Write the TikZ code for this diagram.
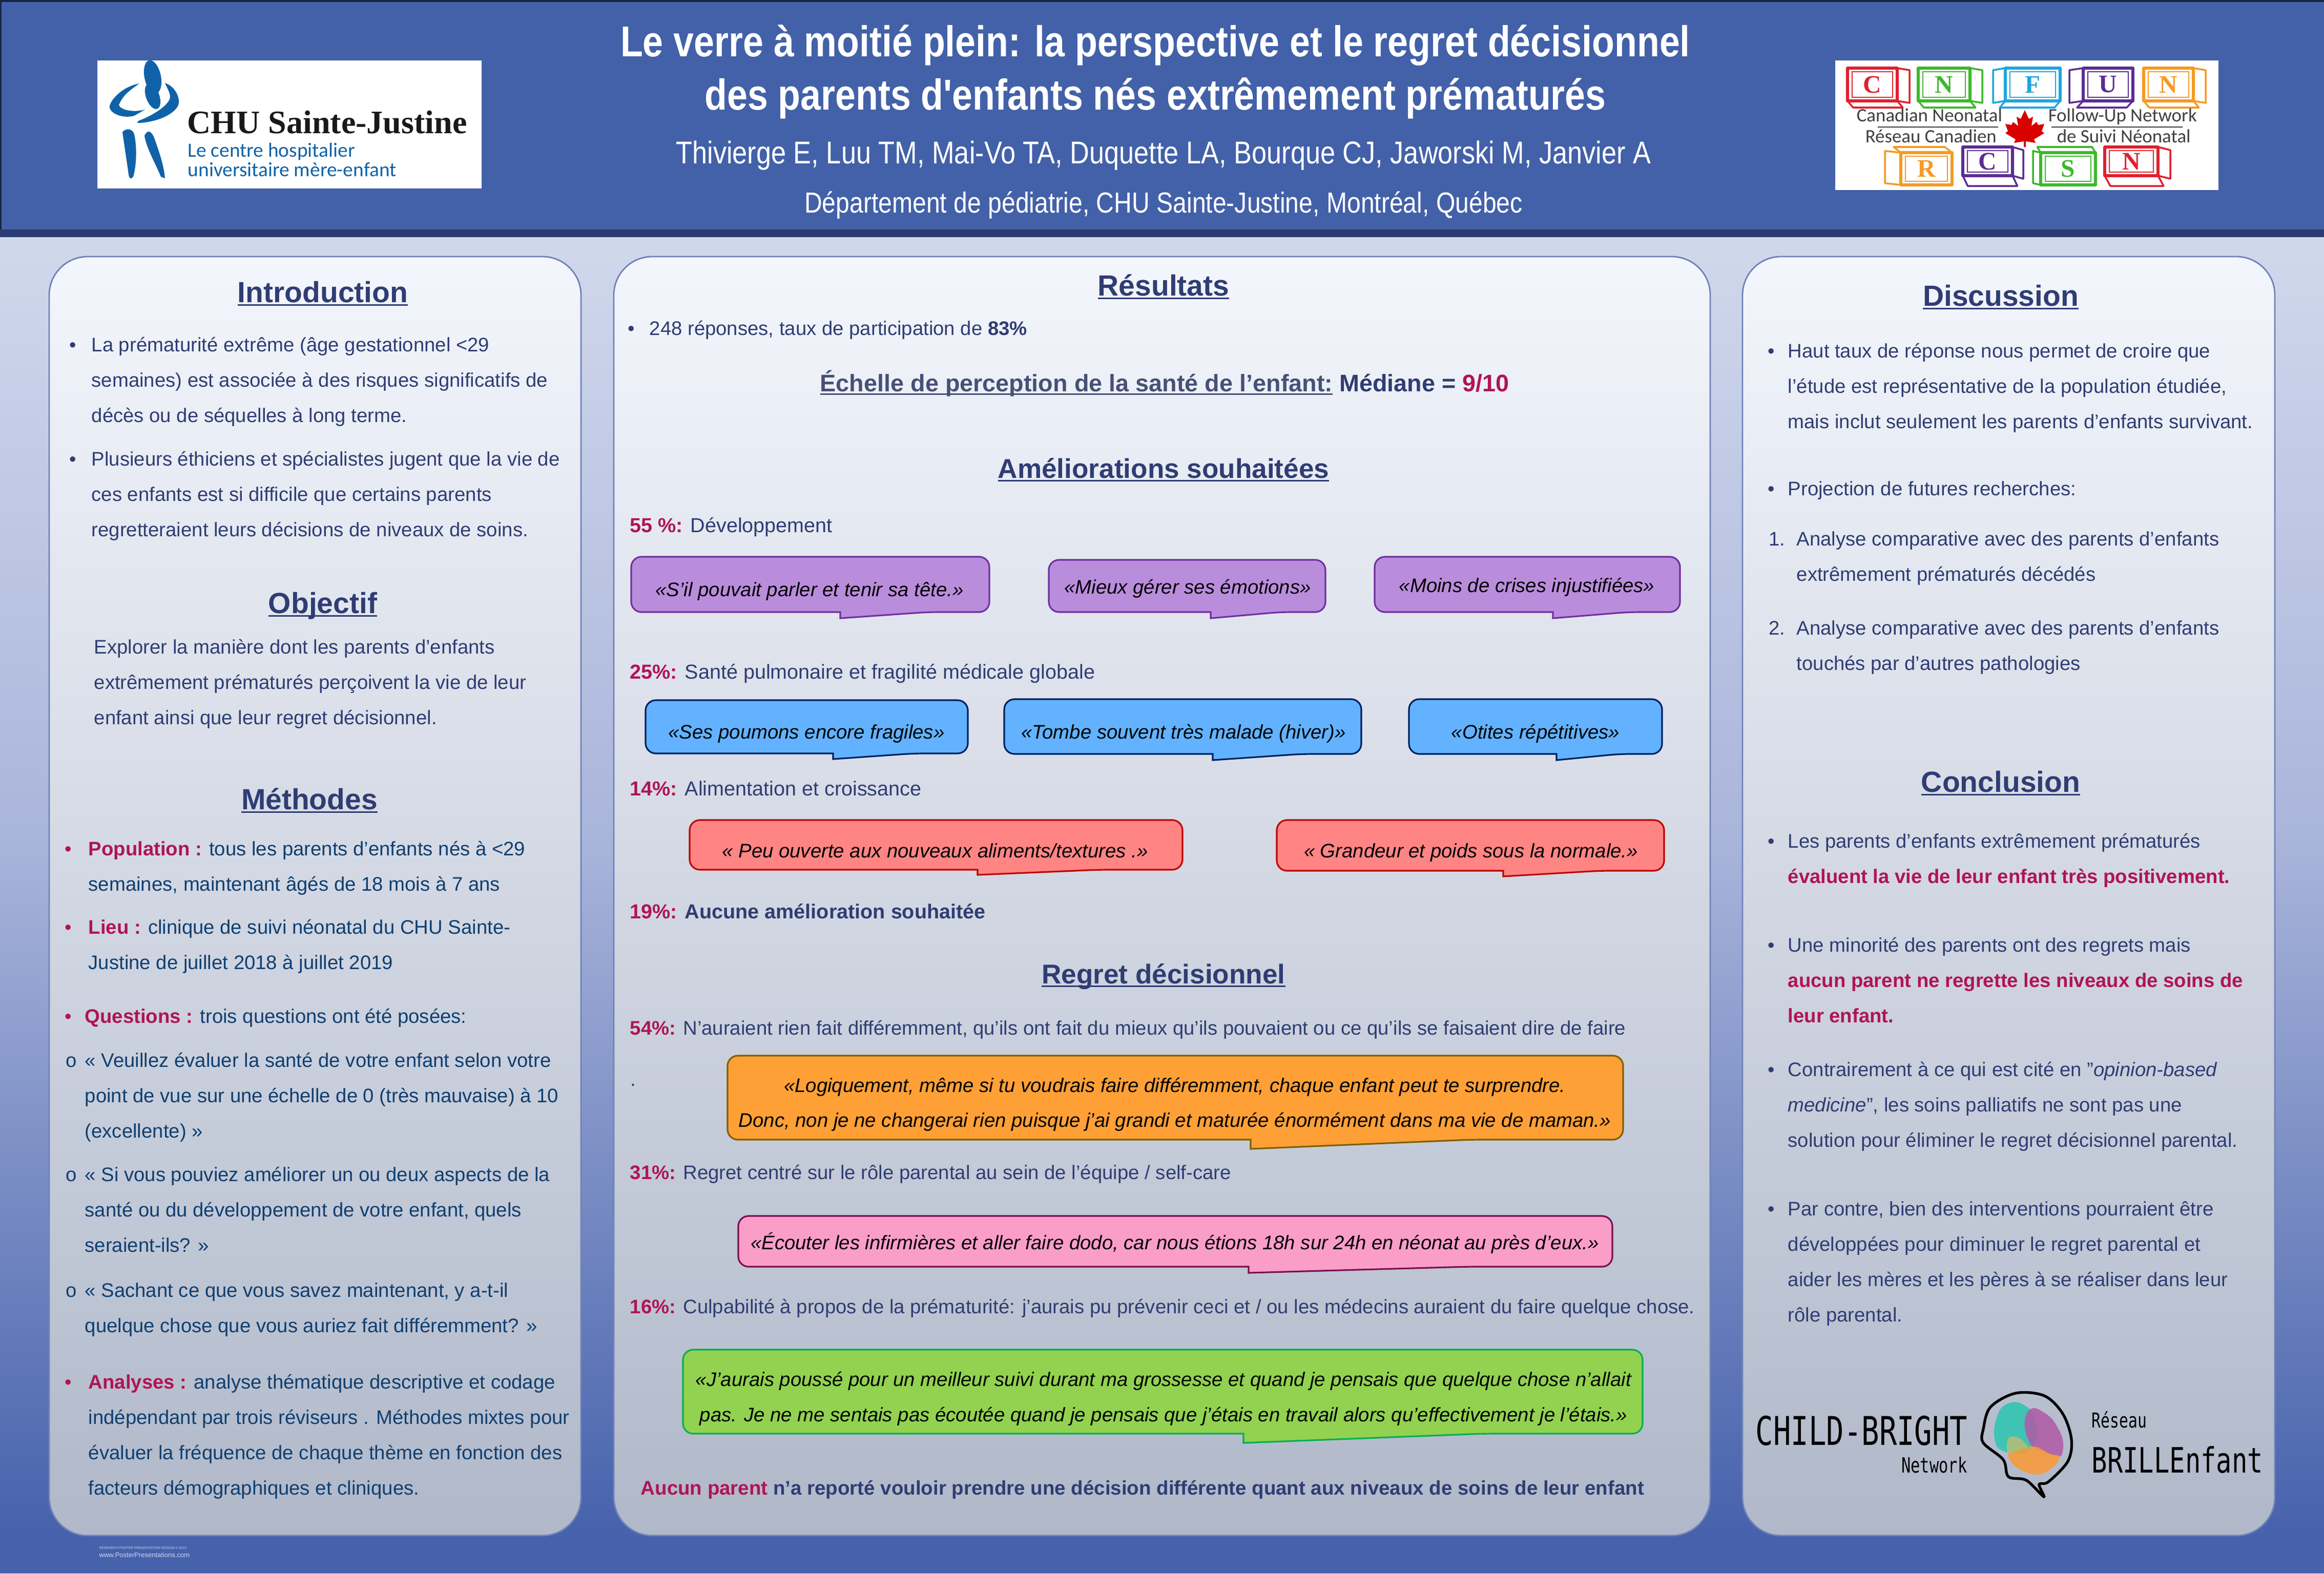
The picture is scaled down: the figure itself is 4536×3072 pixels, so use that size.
\documentclass[tikz,border=0pt]{standalone}
\usepackage{fontspec}
\setmainfont{Liberation Sans}
\newfontfamily\narrowfont[FakeStretch=0.85]{Liberation Sans}
\newfontfamily\logoserif{Liberation Serif}
\newfontfamily\logosans{Carlito}
\newfontfamily\logomono[FakeStretch=0.74]{DejaVu Sans Mono}
\usetikzlibrary{calc}

\definecolor{headblue}{HTML}{4361A8}
\definecolor{bandblue}{HTML}{2A3D72}
\definecolor{pagetop}{HTML}{D0D8EC}
\definecolor{pagemid}{HTML}{AAB5DB}
\definecolor{pagebot}{HTML}{4662AC}
\definecolor{paneltop}{HTML}{F3F6FC}
\definecolor{panelbot}{HTML}{B0B8C9}
\definecolor{panelline}{HTML}{6F82B8}
\definecolor{navytext}{HTML}{2F3D73}
\definecolor{tealnavy}{HTML}{0F3F70}
\definecolor{crimson}{HTML}{B01455}
\definecolor{chublue}{HTML}{0F62A8}
\definecolor{quoteviolet}{RGB}{186,141,220}
\definecolor{quotesky}{RGB}{98,178,255}
\definecolor{quotered}{RGB}{255,133,133}
\definecolor{quoteorange}{RGB}{255,160,55}
\definecolor{quotepink}{RGB}{250,158,200}
\definecolor{quotegreen}{RGB}{146,210,80}
\definecolor{edgeviolet}{HTML}{7030A0}
\definecolor{edgesky}{HTML}{002060}
\definecolor{edgered}{HTML}{C00000}
\definecolor{edgeorange}{HTML}{7F6000}
\definecolor{edgepink}{HTML}{7B0F50}
\definecolor{edgegreen}{HTML}{00B050}

\tikzset{
  sidepanel/.style={draw=panelline,line width=0.8pt,top color=paneltop,bottom color=panelbot,rounded corners=0.75cm},
  bodytxt/.style={anchor=north west,inner sep=0pt,align=left,yshift=8pt,
    font=\fontsize{10.9}{19.6}\selectfont},
  headtxt/.style={anchor=base,inner sep=0pt,text=navytext,font=\fontsize{16.2}{18}\selectfont\bfseries},
  subhead/.style={headtxt,font=\fontsize{15.1}{18}\selectfont\bfseries},
  linetxt/.style={anchor=base west,inner sep=0pt,text=navytext,font=\fontsize{10.9}{14}\selectfont},
  widetxt/.style={linetxt,font=\fontsize{11.25}{14}\selectfont},
  quotetxt/.style={anchor=base,inner sep=0pt,text=black,font=\fontsize{10.9}{14}\selectfont\itshape},
  bulletmark/.style={anchor=base,inner sep=0pt,font=\fontsize{10.9}{14}\selectfont},
  quotebubble/.style={line width=0.9pt},
  cubeline/.style={line width=1pt,fill=white,line join=round},
}

% heavier underline for the headings
\newcommand{\headrule}[1]{\setbox0=\hbox{#1}\rlap{\rule[-2pt]{\wd0}{1pt}}\box0}

% speech bubble: name, x1, y1, x2, y2, tail start, tail end, tail tip, colours
\newcommand{\quotebox}[9]{
  \draw[quotebubble,#9] [rounded corners=0.2cm] (#6,#5) -- (#2,#5) -- (#2,#3) -- (#4,#3) -- (#4,#5) -- (#7,#5)
    [sharp corners] -- (#6,#8) -- cycle;
}

% toy block of the network logo: front x1 y1 x2 y2, depth dx dy, colour, letter
\newcommand{\logocube}[8]{
  \ifdim #5pt<0pt \def\sidex{#1}\else \def\sidex{#3}\fi
  \ifdim #6pt<0pt \def\facey{#2}\else \def\facey{#4}\fi
  \draw[cubeline,draw=#7] (\sidex,#2) -- ++(#5,#6*0.3) -- ++(0,#4-#2) -- ++(-#5,-#6*0.3) -- cycle;
  \draw[cubeline,draw=#7] (#1,\facey) -- ++(#5*0.45,#6) -- ++(#3-#1,0) -- (#3,\facey) -- cycle;
  \draw[cubeline,draw=#7,line width=1.6pt] (#1,#2) rectangle (#3,#4);
  \draw[draw=#7,line width=0.8pt] (#1+9,#2+7) rectangle (#3-9,#4-7);
  \node[inner sep=0pt,text=#7,font=\fontsize{14}{14}\selectfont\logoserif\bfseries] (cube#8#1) at ({(#1+#3)/2},{(#2+#4)/2}) {#8};
}

\begin{document}
\begin{tikzpicture}[x=0.01cm,y=-0.01cm]

\useasboundingbox (0,0) rectangle (4536,3072);

% page and header
\fill[top color=pagetop,bottom color=pagemid] (0,463) rectangle (4536,1627);
\fill[top color=pagemid,bottom color=pagebot] (0,1627) rectangle (4536,3000);
\fill[pagebot] (0,3000) rectangle (4536,3072);
\fill[headblue] (0,0) rectangle (4536,448);
\fill[bandblue] (0,448) rectangle (4536,463);
\fill[bandblue!60!black] (0,0) rectangle (4536,4);
\fill[bandblue!60!black] (0,0) rectangle (3,448);

% title block
\node[anchor=base,inner sep=0pt,text=white,font=\fontsize{24}{28}\selectfont\narrowfont\bfseries] (titleA) at (2255,110) {Le verre à moitié plein: la perspective et le regret décisionnel};
\node[anchor=base,inner sep=0pt,text=white,font=\fontsize{24}{28}\selectfont\narrowfont\bfseries] (titleB) at (2255,214) {des parents d'enfants nés extrêmement prématurés};
\node[anchor=base,inner sep=0pt,text=white,font=\fontsize{17.5}{20}\selectfont\narrowfont] (authors) at (2271,319) {Thivierge E, Luu TM, Mai-Vo TA, Duquette LA, Bourque CJ, Jaworski M, Janvier A};
\node[anchor=base,inner sep=0pt,text=white,font=\fontsize{16.1}{20}\selectfont\narrowfont] (dept) at (2271,415) {Département de pédiatrie, CHU Sainte-Justine, Montréal, Québec};

% CHU logo
\fill[white] (190,118) rectangle (940,368);
\begin{scope}[chublue]
  \fill[rotate around={12:(298,150)}] (298,150) ellipse (16 and 33);
  \fill[rotate around={20:(298,188)}] (298,188) ellipse (13 and 26);
  \fill (272,163) .. controls (235,170) and (212,200) .. (214,210) .. controls (216,222) and (240,232) .. (262,226) -- (283,214)
    .. controls (260,220) and (235,215) .. (232,205) .. controls (240,185) and (255,175) .. (272,163);
  \fill (322,162) .. controls (345,170) and (352,195) .. (348,205) .. controls (340,225) and (300,240) .. (268,240)
    -- (270,236) .. controls (300,225) and (330,205) .. (332,190) .. controls (332,180) and (325,170) .. (322,162);
  \fill (239,258) .. controls (245,250) and (258,250) .. (262,262) .. controls (268,290) and (266,325) .. (260,345) .. controls (256,350) and (252,350) .. (251,340) -- cycle;
  \fill (282,265) .. controls (288,252) and (296,255) .. (302,272) .. controls (312,300) and (320,325) .. (322,348) -- (314,345) .. controls (304,320) and (286,290) .. (282,265) -- cycle;
\end{scope}
\node[anchor=base west,inner sep=0pt,text=black!90,font=\fontsize{18.2}{20}\selectfont\logoserif\bfseries] (chuname) at (365,260) {CHU Sainte-Justine};
\node[anchor=base west,inner sep=0pt,text=chublue,font=\fontsize{11.2}{12}\selectfont\logosans] (chuA) at (366,306) {Le centre hospitalier};
\node[anchor=base west,inner sep=0pt,text=chublue,font=\fontsize{11.2}{12}\selectfont\logosans] (chuB) at (366,344) {universitaire mère-enfant};

% CNFUN logo
\fill[white] (3582,118) rectangle (4330,371);
\definecolor{cubered}{HTML}{E0202E}
\definecolor{cubegreen}{HTML}{3DB82C}
\definecolor{cubecyan}{HTML}{1FA5E0}
\definecolor{cubeviolet}{HTML}{5B2D92}
\definecolor{cubeorange}{HTML}{F59A23}
\logocube{3606}{133}{3703}{197}{24}{13}{cubered}{C}
\logocube{3744}{133}{3845}{197}{24}{13}{cubegreen}{N}
\logocube{3914}{133}{4021}{197}{-24}{13}{cubecyan}{F}
\logocube{4066}{133}{4163}{197}{-27}{13}{cubeviolet}{U}
\logocube{4184}{133}{4281}{197}{24}{13}{cubeorange}{N}
\logocube{3710}{298}{3810}{361}{-31}{-11}{cubeorange}{R}
\logocube{3831}{287}{3928}{343}{21}{20}{cubeviolet}{C}
\logocube{3983}{298}{4090}{361}{-15}{-11}{cubegreen}{S}
\logocube{4108}{287}{4212}{343}{24}{20}{cubered}{N}
\begin{scope}[font=\fontsize{10.5}{11}\selectfont\logosans,text=black!75]
  \node[anchor=base west,inner sep=0pt] (cnfunA) at (3623,237) {Canadian Neonatal};
  \node[anchor=base west,inner sep=0pt] (cnfunB) at (3997,237) {Follow-Up Network};
  \node[anchor=base west,inner sep=0pt] (cnfunC) at (3640,278) {Réseau Canadien};
  \node[anchor=base west,inner sep=0pt] (cnfunD) at (4014,278) {de Suivi Néonatal};
\end{scope}
\draw[black!75,line width=0.8pt] (3665,248) -- (3900,248) (4004,248) -- (4260,248);
% maple leaf
\fill[red!85!black] (3952,215) -- (3960,232) -- (3968,228) -- (3965,246) -- (3975,238) -- (3978,244) -- (3990,242) -- (3985,256) -- (3990,260)
  -- (3970,272) -- (3973,279) -- (3954,276) -- (3954,287) -- (3950,287) -- (3950,276) -- (3931,279) -- (3934,272) -- (3914,260) -- (3919,256) -- (3914,242)
  -- (3926,244) -- (3929,238) -- (3939,246) -- (3936,228) -- (3944,232) -- cycle;

% panels
\draw[sidepanel] (96,501) rectangle (1134,2998);
\draw[sidepanel] (1198,501) rectangle (3338,2998);
\draw[sidepanel] (3401,501) rectangle (4440,2998);

% left column
\node[headtxt] (introhead) at (630,590) {\headrule{Introduction}};
\node[bodytxt,text=navytext] (introA) at (178,686) {La prématurité extrême (âge gestationnel <29\\semaines) est associée à des risques significatifs de\\décès ou de séquelles à long terme.};
\node[bodytxt,text=navytext] (introB) at (178,909) {Plusieurs éthiciens et spécialistes jugent que la vie de\\ces enfants est si difficile que certains parents\\regretteraient leurs décisions de niveaux de soins.};
\node[headtxt] (objhead) at (630,1197) {\headrule{Objectif}};
\node[bodytxt,text=navytext] (objtxt) at (183,1276) {Explorer la manière dont les parents d’enfants\\extrêmement prématurés perçoivent la vie de leur\\enfant ainsi que leur regret décisionnel.};
\node[headtxt] (methhead) at (604,1580) {\headrule{Méthodes}};
\node[bodytxt,text=tealnavy] (methA) at (172,1670) {\textcolor{crimson}{\bfseries Population :} tous les parents d’enfants nés à <29\\semaines, maintenant âgés de 18 mois à 7 ans};
\node[bodytxt,text=tealnavy] (methB) at (172,1823) {\textcolor{crimson}{\bfseries Lieu :} clinique de suivi néonatal du CHU Sainte-\\Justine de juillet 2018 à juillet 2019};
\node[bodytxt,text=tealnavy] (methC) at (165,1997) {\textcolor{crimson}{\bfseries Questions :} trois questions ont été posées:};
\node[bodytxt,text=tealnavy] (methD) at (165,2083) {« Veuillez évaluer la santé de votre enfant selon votre\\point de vue sur une échelle de 0 (très mauvaise) à 10\\(excellente)  »};
\node[bodytxt,text=tealnavy] (methE) at (165,2306) {« Si vous pouviez améliorer un ou deux aspects de la\\santé ou du développement de votre enfant, quels\\seraient-ils? »};
\node[bodytxt,text=tealnavy] (methF) at (165,2532) {« Sachant ce que vous savez maintenant, y a-t-il\\quelque chose que vous auriez fait différemment? »};
\node[bodytxt,text=tealnavy] (methG) at (172,2711) {\textcolor{crimson}{\bfseries Analyses :} analyse thématique descriptive et codage\\indépendant par trois réviseurs . Méthodes mixtes pour\\évaluer la fréquence de chaque thème en fonction des\\facteurs démographiques et cliniques.};
\foreach \bx/\by [count=\i] in {142/686,142/909}
  \node[bulletmark,text=navytext] (dotL\i) at (\bx,\by) {•};
\foreach \bx/\by [count=\i] in {133/1670,133/1823,133/1997,133/2711}
  \node[bulletmark,text=crimson] (dotM\i) at (\bx,\by) {•};
\foreach \by [count=\i] in {2083,2306,2532}
  \node[bulletmark,text=tealnavy] (ringM\i) at (139,\by) {o};

% centre column
\node[headtxt] (reshead) at (2271,577) {\headrule{Résultats}};
\node[bulletmark,text=navytext] (dotC) at (1232,654) {•};
\node[linetxt] (resA) at (1267,654) {248 réponses, taux de participation de \textbf{83\%}};
\node[anchor=base west,inner sep=0pt,font=\fontsize{13.3}{16}\selectfont\bfseries,text=navytext] (scale) at (1600,764) {\textcolor{navytext!70!gray}{\headrule{Échelle de perception de la santé de l’enfant:}} Médiane = \textcolor{crimson}{9/10}};
\node[subhead] (wishhead) at (2271,933) {\headrule{Améliorations souhaitées}};
\node[widetxt] (wishA) at (1229,1039) {\textcolor{crimson}{\bfseries 55 \%:} Développement};
\node[widetxt] (wishB) at (1229,1325) {\textcolor{crimson}{\bfseries 25\%:} Santé pulmonaire  et fragilité médicale globale};
\node[widetxt] (wishC) at (1229,1553) {\textcolor{crimson}{\bfseries 14\%:} Alimentation  et croissance};
\node[widetxt] (wishD) at (1229,1793) {\textcolor{crimson}{\bfseries 19\%:} \textbf{Aucune  amélioration souhaitée}};
\node[subhead] (regrethead) at (2271,1920) {\headrule{Regret décisionnel}};
\node[linetxt] (regA) at (1229,2020) {\textcolor{crimson}{\bfseries 54\%:}  N’auraient rien fait différemment, qu’ils ont fait du mieux qu’ils pouvaient ou ce qu’ils se faisaient dire de faire};
\node[linetxt] (regdot) at (1230,2120) {.};
\node[linetxt] (regB) at (1229,2302) {\textcolor{crimson}{\bfseries 31\%:} Regret centré sur le rôle parental au sein de l’équipe / self-care};
\node[linetxt] (regC) at (1229,2564) {\textcolor{crimson}{\bfseries 16\%:} Culpabilité à propos de la prématurité: j’aurais pu prévenir ceci et / ou les médecins auraient du faire quelque chose.};
\node[linetxt,font=\fontsize{10.94}{14}\selectfont\bfseries] (regD) at (1250,2918) {\textcolor{crimson}{Aucun parent} n’a reporté vouloir prendre une décision différente quant aux niveaux de soins de leur enfant};

% quotes
\quotebox{qA}{1232}{1087}{1931}{1195}{1640}{1811}{1207}{draw=edgeviolet,fill=quoteviolet}
\quotebox{qB}{2047}{1093}{2587}{1195}{2363}{2499}{1207}{draw=edgeviolet,fill=quoteviolet}
\quotebox{qC}{2683}{1087}{3279}{1195}{3031}{3179}{1207}{draw=edgeviolet,fill=quoteviolet}
\quotebox{qD}{1260}{1367}{1889}{1471}{1626}{1783}{1482}{draw=edgesky,fill=quotesky}
\quotebox{qE}{1960}{1365}{2657}{1472}{2367}{2541}{1484}{draw=edgesky,fill=quotesky}
\quotebox{qF}{2750}{1365}{3244}{1472}{3038}{3161}{1484}{draw=edgesky,fill=quotesky}
\quotebox{qG}{1346}{1601}{2308}{1698}{1908}{2145}{1708}{draw=edgered,fill=quotered}
\quotebox{qH}{2492}{1601}{3248}{1700}{2934}{3123}{1711}{draw=edgered,fill=quotered}
\quotebox{qI}{1420}{2061}{3168}{2225}{2441}{2871}{2243}{draw=edgeorange,fill=quoteorange}
\quotebox{qJ}{1441}{2374}{3147}{2473}{2437}{2864}{2485}{draw=edgepink,fill=quotepink}
\quotebox{qK}{1333}{2635}{3206}{2799}{2427}{2895}{2817}{draw=edgegreen,fill=quotegreen}
\node[quotetxt] (qAtxt) at (1580,1164) {«S’il pouvait parler et tenir sa tête.»};
\node[quotetxt] (qBtxt) at (2318,1159) {«Mieux gérer ses émotions»};
\node[quotetxt] (qCtxt) at (2980,1156) {«Moins de crises injustifiées»};
\node[quotetxt] (qDtxt) at (1574,1442) {«Ses poumons encore fragiles»};
\node[quotetxt] (qEtxt) at (2310,1442) {«Tombe souvent très malade (hiver)»};
\node[quotetxt] (qFtxt) at (2997,1442) {«Otites répétitives»};
\node[quotetxt] (qGtxt) at (1825,1674) {« Peu ouverte aux nouveaux aliments/textures .»};
\node[quotetxt] (qHtxt) at (2871,1674) {« Grandeur et poids sous la normale.»};
\node[quotetxt] (qItxtA) at (2293,2132) {«Logiquement,  même si tu voudrais faire différemment,  chaque enfant peut te surprendre.};
\node[quotetxt] (qItxtB) at (2293,2200) {Donc, non je ne changerai rien puisque j’ai grandi et maturée énormément dans ma vie de maman.»};
\node[quotetxt] (qJtxt) at (2293,2439) {«Écouter les infirmières et aller faire dodo, car nous étions 18h sur 24h en néonat au près d'eux.»};
\node[quotetxt] (qKtxtA) at (2271,2706) {«J'aurais poussé pour un meilleur  suivi durant ma grossesse et quand je pensais que quelque  chose n'allait};
\node[quotetxt] (qKtxtB) at (2271,2775) {pas. Je ne me sentais pas écoutée quand je pensais que j'étais en travail alors qu'effectivement je l'étais.»};

% right column
\node[headtxt] (dischead) at (3905,597) {\headrule{Discussion}};
\node[bodytxt,text=navytext] (discA) at (3489,698) {Haut taux de réponse nous permet de croire que\\l’étude est représentative de la population étudiée,\\mais inclut seulement les parents d’enfants survivant.};
\node[bodytxt,text=navytext] (discB) at (3489,967) {Projection de futures recherches:};
\node[bodytxt,text=navytext] (discC) at (3506,1065) {Analyse comparative avec des parents d'enfants\\extrêmement prématurés décédés};
\node[bodytxt,text=navytext] (discD) at (3506,1239) {Analyse comparative avec des parents d'enfants\\touchés par d’autres pathologies};
\node[bulletmark,text=navytext] (numA) at (3468,1065) {1.};
\node[bulletmark,text=navytext] (numB) at (3468,1239) {2.};
\node[headtxt] (conchead) at (3905,1546) {\headrule{Conclusion}};
\node[bodytxt,text=navytext] (concA) at (3489,1655) {Les parents d’enfants extrêmement prématurés\\\textcolor{crimson}{\bfseries évaluent la vie de leur enfant très positivement.}};
\node[bodytxt,text=navytext] (concB) at (3489,1858) {Une minorité des parents ont des regrets mais\\\textcolor{crimson}{\bfseries aucun parent ne regrette les niveaux de soins de}\\\textcolor{crimson}{\bfseries leur enfant.}};
\node[bodytxt,text=navytext] (concC) at (3489,2101) {Contrairement à ce qui est cité en "\textit{opinion-based}\\\textit{medicine}",  les soins palliatifs ne sont pas une\\solution pour éliminer le regret décisionnel parental.};
\node[bodytxt,text=navytext] (concD) at (3489,2373) {Par contre, bien des interventions pourraient être\\développées pour diminuer le regret parental et\\aider les mères et les pères à se réaliser dans leur\\rôle parental.};
\foreach \by [count=\i] in {698,967,1655,1858,2101,2373}
  \node[bulletmark,text=navytext] (dotR\i) at (3457,\by) {•};

% network logo
\node[anchor=base west,inner sep=0pt,font=\fontsize{22}{24}\selectfont\logomono,text=black] (childA) at (3426,2821) {CHILD-BRIGHT};
\node[anchor=base east,inner sep=0pt,font=\fontsize{11.7}{14}\selectfont\logomono,text=black] (childB) at (3840,2875) {Network};
\node[anchor=base west,inner sep=0pt,font=\fontsize{11.4}{14}\selectfont\logomono,text=black] (childC) at (4082,2787) {Réseau};
\node[anchor=base west,inner sep=0pt,font=\fontsize{19.4}{24}\selectfont\logomono,text=black] (childD) at (4082,2875) {BRILLEnfant};
\fill[fill={rgb,255:red,63;green,196;blue,180}] plot[smooth cycle] coordinates {(3934,2737) (3965,2755) (3977,2800) (3960,2835) (3925,2837) (3898,2825) (3892,2790) (3905,2750)};
\fill[fill={rgb,255:red,176;green,90;blue,166},opacity=0.85] plot[smooth cycle] coordinates {(3972,2749) (4005,2770) (4026,2810) (4022,2843) (3990,2835) (3965,2822) (3952,2790) (3955,2760)};
\fill[fill={rgb,255:red,249;green,154;blue,56},opacity=0.88] plot[smooth cycle] coordinates {(3920,2838) (3950,2826) (3975,2825) (4000,2838) (4019,2843) (4012,2860) (3985,2878) (3955,2875) (3930,2860)};
\fill[fill={rgb,255:red,178;green,190;blue,120},opacity=0.9] plot[smooth cycle] coordinates {(3923,2805) (3942,2808) (3958,2825) (3942,2830) (3920,2838) (3917,2820)};
\draw[black,line width=1.5pt] plot[smooth cycle,tension=0.55] coordinates {(3934,2720) (3990,2725) (4026,2760) (4043,2810) (4036,2853) (3998,2893) (3980,2898) (3989,2922) (3955,2890) (3920,2883) (3910,2850) (3871,2817) (3871,2790) (3885,2747)};

% footer
\node[anchor=base west,inner sep=0pt,text=white!75!headblue,font=\fontsize{1.9}{3}\selectfont] (footA) at (193,3024) {RESEARCH   POSTER PRESENTATION   DESIGN © 2015};
\node[anchor=base west,inner sep=0pt,text=white!75!headblue,font=\fontsize{3.7}{5}\selectfont] (footB) at (193,3040) {www.PosterPresentations.com};

\end{tikzpicture}
\end{document}
